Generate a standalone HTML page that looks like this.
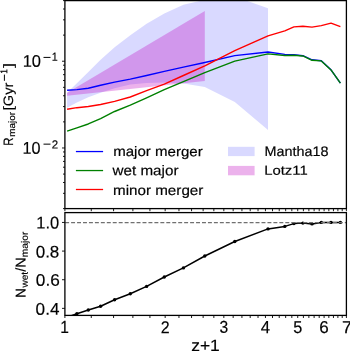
<!DOCTYPE html>
<html><head><meta charset="utf-8"><style>
html,body{margin:0;padding:0;background:#fff;}
body{width:350px;height:351px;overflow:hidden;}
svg{display:block;}
text{font-family:"Liberation Sans",sans-serif;fill:#000;stroke:#000;stroke-width:0.18px;text-rendering:geometricPrecision;}
</style></head><body>
<svg width="350" height="351" viewBox="0 0 350 351">
<rect width="350" height="351" fill="#fff"/>
<defs><clipPath id="ct"><rect x="64.9" y="0.6" width="281.5" height="208"/></clipPath>
<clipPath id="cb"><rect x="64.9" y="212.6" width="281.5" height="102.8"/></clipPath></defs>
<g clip-path="url(#ct)">
<polygon points="67.1,92.7 76.9,83.3 88.3,72.1 100.6,59.7 114.6,47.3 130.3,35.35 146.6,23.8 164.3,13.6 183.4,4.7 204.8,-0.2 234.8,-3.5 268,8.3 268,130.1 234.8,101.9 204.8,86.9 183.4,83.5 164.3,82.6 146.6,83 130.3,84.6 114.6,88.2 100.6,92.8 88.3,97.2 76.9,102.4 67.1,107.7" fill="#0000ff" fill-opacity="0.15"/>
<polygon points="67.1,92.7 204.8,11.1 204.8,81.1 67.1,95.7" fill="#bf00bf" fill-opacity="0.3"/>
<g fill="none" stroke-width="1.4" stroke-linejoin="round" stroke-linecap="butt">
<polyline points="67.1,90.2 76.9,89.58 88.3,88.27 100.6,85.27 114.6,82.18 130.3,79.1 146.6,75.5 164.3,71.4 183.4,67.1 204.8,62.5 234.8,55.6 268,52 284.8,54.4 293.9,54.8 302.9,55.7 312,59.8 321.3,60.8 331,69.8 340.4,83.1" stroke="#0000ff"/>
<polyline points="67.1,131.19 76.9,127.87 88.3,123.97 100.6,118.55 114.6,111.49 130.3,105.13 146.6,97.9 164.3,89.58 183.4,81.6 204.8,72.67 234.8,61.09 268,53.85 284.8,55.57 293.9,55.22 302.9,55.99 312,60.3 321.3,60.91 331,69.91 340.4,83.21" stroke="#008000"/>
<polyline points="67.1,109.3 76.9,107.68 88.3,106.47 100.6,104.47 114.6,101.38 130.3,97 146.6,90.7 164.3,84.2 183.4,75.5 204.8,65.8 234.8,50.7 268,35.8 284.8,30.9 293.9,26.9 302.9,26.2 312,27.1 321.3,25.6 331,23.1 340.4,26.6" stroke="#ff0000"/>
</g></g>
<g clip-path="url(#cb)">
<polyline points="67.1,317.3 76.9,313.7 88.3,310 100.6,306.3 114.6,299.7 130.3,293.7 146.6,286.4 164.3,277 183.4,267.9 204.8,256 234.8,241.5 268,228.9 284.8,226.4 293.9,223.6 302.9,223.1 312,223.9 321.3,222.4 331,222.4 340.4,222.4" fill="none" stroke="#000" stroke-width="1.5" stroke-linejoin="round"/>
<circle cx="76.9" cy="313.7" r="1.7" fill="#000"/>
<circle cx="88.3" cy="310" r="1.7" fill="#000"/>
<circle cx="100.6" cy="306.3" r="1.7" fill="#000"/>
<circle cx="114.6" cy="299.7" r="1.7" fill="#000"/>
<circle cx="130.3" cy="293.7" r="1.7" fill="#000"/>
<circle cx="146.6" cy="286.4" r="1.7" fill="#000"/>
<circle cx="164.3" cy="277" r="1.7" fill="#000"/>
<circle cx="183.4" cy="267.9" r="1.7" fill="#000"/>
<circle cx="204.8" cy="256" r="1.7" fill="#000"/>
<circle cx="234.8" cy="241.5" r="1.7" fill="#000"/>
<circle cx="268" cy="228.9" r="1.7" fill="#000"/>
<circle cx="284.8" cy="226.4" r="1.7" fill="#000"/>
<circle cx="293.9" cy="223.6" r="1.7" fill="#000"/>
<circle cx="302.9" cy="223.1" r="1.7" fill="#000"/>
<circle cx="312" cy="223.9" r="1.7" fill="#000"/>
<circle cx="321.3" cy="222.4" r="1.7" fill="#000"/>
<circle cx="331" cy="222.4" r="1.7" fill="#000"/>
<circle cx="340.4" cy="222.4" r="1.7" fill="#000"/>
</g>
<line x1="65.15" y1="222.55" x2="346.4" y2="222.55" stroke="#707070" stroke-width="1.3" stroke-dasharray="3.95 2"/>
<path d="M64.9 208.6v2.6M91.28 208.6v2.6M113.57 208.6v2.6M132.89 208.6v2.6M149.93 208.6v2.6M165.17 208.6v2.6M178.96 208.6v2.6M191.55 208.6v2.6M203.13 208.6v2.6M213.85 208.6v2.6M223.83 208.6v2.6M233.16 208.6v2.6M241.93 208.6v2.6M250.2 208.6v2.6M258.02 208.6v2.6M265.44 208.6v2.6M272.5 208.6v2.6M279.23 208.6v2.6M285.66 208.6v2.6M291.82 208.6v2.6M297.73 208.6v2.6M303.4 208.6v2.6M308.86 208.6v2.6M314.12 208.6v2.6M319.2 208.6v2.6M324.1 208.6v2.6M328.84 208.6v2.6M333.44 208.6v2.6M337.89 208.6v2.6M342.21 208.6v2.6M346.4 208.6v2.6M64.9 315.4v2.6M91.28 315.4v2.6M113.57 315.4v2.6M132.89 315.4v2.6M149.93 315.4v2.6M165.17 315.4v2.6M178.96 315.4v2.6M191.55 315.4v2.6M203.13 315.4v2.6M213.85 315.4v2.6M223.83 315.4v2.6M233.16 315.4v2.6M241.93 315.4v2.6M250.2 315.4v2.6M258.02 315.4v2.6M265.44 315.4v2.6M272.5 315.4v2.6M279.23 315.4v2.6M285.66 315.4v2.6M291.82 315.4v2.6M297.73 315.4v2.6M303.4 315.4v2.6M308.86 315.4v2.6M314.12 315.4v2.6M319.2 315.4v2.6M324.1 315.4v2.6M328.84 315.4v2.6M333.44 315.4v2.6M337.89 315.4v2.6M342.21 315.4v2.6M346.4 315.4v2.6M64.9 208.6h-1.9M64.9 193.33h-1.9M64.9 182.49h-1.9M64.9 174.08h-1.9M64.9 167.21h-1.9M64.9 161.41h-1.9M64.9 156.38h-1.9M64.9 151.94h-1.9M64.9 147.97h-2.9M64.9 121.86h-1.9M64.9 106.58h-1.9M64.9 95.75h-1.9M64.9 87.34h-1.9M64.9 80.47h-1.9M64.9 74.67h-1.9M64.9 69.64h-1.9M64.9 65.2h-1.9M64.9 61.23h-2.9M64.9 35.12h-1.9M64.9 19.84h-1.9M64.9 9.01h-1.9M64.9 0.6h-1.9M64.9 308.37h-2.9M64.9 279.73h-2.9M64.9 251.09h-2.9M64.9 222.45h-2.9" stroke="#000" stroke-width="0.9" fill="none"/>
<rect x="64.9" y="0.6" width="281.5" height="208" fill="none" stroke="#000" stroke-width="1.3"/>
<rect x="64.9" y="212.6" width="281.5" height="102.8" fill="none" stroke="#000" stroke-width="1.3"/>
<g stroke-width="1.3">
<line x1="75.9" y1="151.55" x2="103.1" y2="151.55" stroke="#0000ff"/>
<line x1="75.9" y1="170.55" x2="103.1" y2="170.55" stroke="#008000"/>
<line x1="75.9" y1="189.5" x2="103.1" y2="189.5" stroke="#ff0000"/>
</g>
<rect x="228" y="146.8" width="26.6" height="9.3" fill="#0000ff" fill-opacity="0.15"/>
<rect x="228" y="165.9" width="26.6" height="9.4" fill="#bf00bf" fill-opacity="0.3"/>
<g opacity="0.999">
<text transform="translate(22.65,66.82) rotate(0.05) scale(0.9773,1)" font-size="16.85">10</text>
<rect x="43.5" y="56.9" width="7.0" height="1.0" fill="#000"/>
<text transform="translate(51.77,60.83) rotate(0.05) scale(0.9125,1)" font-size="11.8">1</text>
<text transform="translate(22.56,153.73) rotate(0.05) scale(0.9549,1)" font-size="16.98">10</text>
<rect x="43.5" y="143.64" width="7.0" height="1.0" fill="#000"/>
<text transform="translate(51.79,148.52) rotate(0.05) scale(0.9857,1)" font-size="11.67">2</text>
<text transform="translate(36.33,228.52) rotate(0.05) scale(0.9643,1)" font-size="17.09">1.0</text>
<text transform="translate(35.69,257.55) rotate(0.05) scale(1.0068,1)" font-size="16.86">0.8</text>
<text transform="translate(35.86,285.71) rotate(0.05) scale(1.0193,1)" font-size="16.89">0.6</text>
<text transform="translate(35.62,314.77) rotate(0.05) scale(1.0088,1)" font-size="16.98">0.4</text>
<text transform="translate(60.33,332.94) rotate(0.05) scale(0.8864,1)" font-size="17.53">1</text>
<text transform="translate(160.87,333.28) rotate(0.05) scale(0.9209,1)" font-size="17.38">2</text>
<text transform="translate(219.6,332.66) rotate(0.05) scale(0.9131,1)" font-size="17.09">3</text>
<text transform="translate(260.82,333.21) rotate(0.05) scale(0.9465,1)" font-size="17.75">4</text>
<text transform="translate(293.28,332.97) rotate(0.05) scale(0.9456,1)" font-size="17.2">5</text>
<text transform="translate(319.23,333.09) rotate(0.05) scale(1.0001,1)" font-size="17.05">6</text>
<text transform="translate(342.09,333.31) rotate(0.05) scale(1.0050,1)" font-size="17.61">7</text>
<text transform="translate(191.15,350.88) rotate(0.05) scale(1.0672,1)" font-size="16.4">z+1</text>
<text transform="translate(113.13,156.08) rotate(0.05) scale(1.0947,1)" font-size="13.78">major merger</text>
<text transform="translate(112.55,175.2) rotate(0.05) scale(1.0804,1)" font-size="14.09">wet major</text>
<text transform="translate(113,195.04) rotate(0.05) scale(1.0878,1)" font-size="13.97">minor merger</text>
<text transform="translate(264.48,155.94) rotate(0.05) scale(1.0500,1)" font-size="13.71">Mantha18</text>
<text transform="translate(264.18,174.68) rotate(0.05) scale(1.1475,1)" font-size="12.96">Lotz11</text>
<g transform="translate(13,145.1) rotate(-90)">
<text transform="translate(-0.61,0) rotate(0.05) scale(0.8374,1)" font-size="13.65">R</text>
<text transform="translate(8.36,1.9) rotate(0.05) scale(1.0608,1)" font-size="9.31">major</text>
<text transform="translate(34.88,0) rotate(0.05) scale(1.0706,1)" font-size="13.65">[Gyr</text>
<rect x="64.3" y="-9.1" width="6.2" height="1.0" fill="#000"/>
<text transform="translate(71.37,-5.7) rotate(0.05) scale(0.8418,1)" font-size="9.94">1</text>
<text transform="translate(77.22,0) rotate(0.05) scale(1.3527,1)" font-size="13.65">]</text>
</g>
<g transform="translate(25.5,298) rotate(-90)">
<text transform="translate(0.29,0) rotate(0.05) scale(0.9283,1)" font-size="14.18">N</text>
<text transform="translate(10.42,2.2) rotate(0.05) scale(1.0733,1)" font-size="9.36">wet</text>
<text transform="translate(26.17,0) rotate(0.05) scale(1.0120,1)" font-size="14.18">/N</text>
<text transform="translate(40.84,2.2) rotate(0.05) scale(1.0917,1)" font-size="9.36">major</text>
</g>
</g>
</svg>
</body></html>
